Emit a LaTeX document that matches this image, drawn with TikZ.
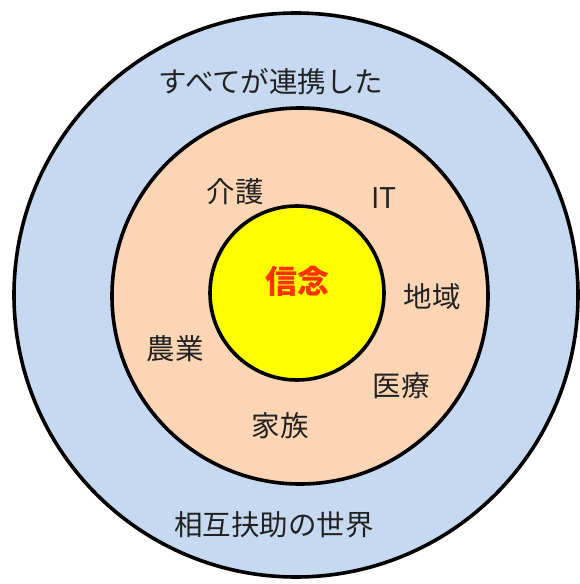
\documentclass[tikz,border=0pt]{standalone}
\usepackage{fontspec}
\newfontfamily\cjk{Noto Sans CJK JP}
\definecolor{outerblue}{HTML}{C6D9F1}
\definecolor{peach}{HTML}{FCD5B5}
\definecolor{coreyellow}{HTML}{FFFF00}
\definecolor{corered}{HTML}{FF3300}
\definecolor{txt}{HTML}{222222}
\begin{document}
\begin{tikzpicture}[x=1pt,y=-1pt,
  ring/.style={circle,draw=black,line width=3.6pt,inner sep=0pt},
  lbl/.style={font=\cjk\fontsize{28.5}{30}\selectfont,text=txt,inner sep=0pt}]
\useasboundingbox (0,0) rectangle (579,584);
\node[ring,fill=outerblue,minimum size=564pt] (outer) at (296,295) {};
\node[ring,fill=peach,minimum size=376pt] (middle) at (300,296) {};
\node[ring,fill=coreyellow,minimum size=174pt] (inner) at (297,293) {};
\node[lbl] (top) at (271,82) {すべてが連携した};
\node[lbl] (bottom) at (274,525) {相互扶助の世界};
\node[lbl,text=corered,font=\cjk\bfseries\fontsize{32}{34}\selectfont] (core) at (297,281) {信念};
\node[lbl] (kaigo) at (235,192) {介護};
\node[lbl] (it) at (384,198) {IT};
\node[lbl] (chiiki) at (432,297) {地域};
\node[lbl] (nogyo) at (175,349) {農業};
\node[lbl] (iryo) at (401,386) {医療};
\node[lbl] (kazoku) at (280,426) {家族};
\end{tikzpicture}
\end{document}
